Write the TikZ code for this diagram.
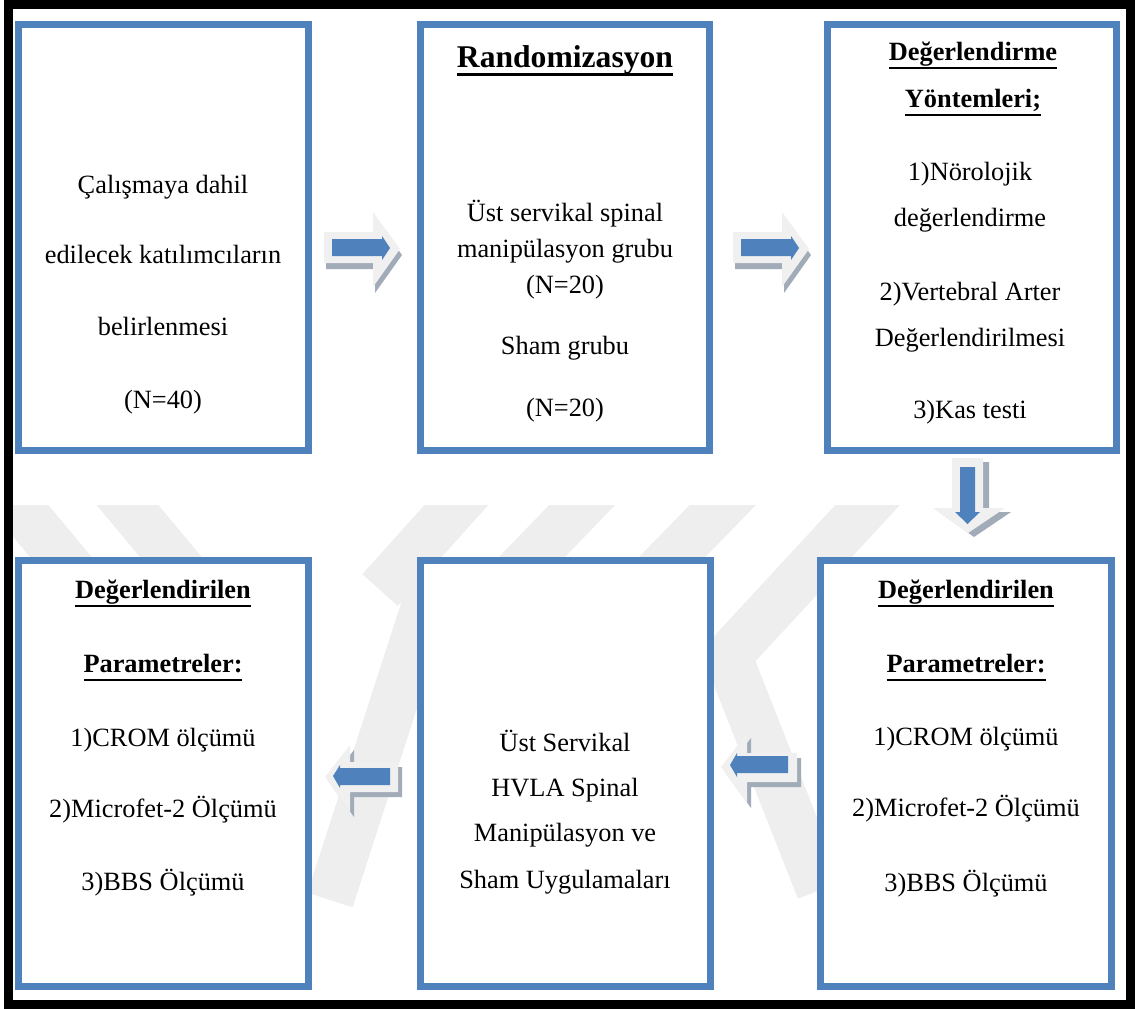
\documentclass[tikz,border=0pt]{standalone}
\usepackage{fontspec}
\setmainfont{Liberation Serif}
\newdimen\myuldepth \myuldepth=4.2pt
\newdimen\myulthick \myulthick=1.1pt
\newcommand{\hdline}[1]{\setbox0\hbox{\textbf{#1}}\rlap{\vrule width \wd0 height -\myuldepth depth \dimexpr\myuldepth+\myulthick\relax}\box0}
\definecolor{boxblue}{HTML}{4F81BD}
\definecolor{arrlight}{HTML}{F0F0F0}
\definecolor{arrshade}{HTML}{A2ABB8}
\definecolor{wmark}{HTML}{EEEEEE}
\begin{document}
\begin{tikzpicture}[x=0.02cm,y=-0.02cm,
  frame/.style={draw=boxblue,fill=white,line width=0.14cm,inner sep=0pt,minimum width=5.8cm,minimum height=8.52cm},
  txt/.style={font=\fontsize{15}{18}\selectfont,inner sep=0pt,anchor=base},
  bigtxt/.style={font=\fontsize{18}{22}\selectfont,inner sep=0pt,anchor=base},
  wband/.style={draw=wmark,line width=0.95cm,line cap=butt},
  arrbody/.style={fill=arrlight},
  arrshadow/.style={fill=arrshade},
  arrcore/.style={fill=boxblue}]
\useasboundingbox (0,0) rectangle (1135,1008);
% watermark
\begin{scope}
\clip (13,505) rectangle (1126,1000);
\draw[wband] (-20,460) -- (180,700);
\draw[wband] (90,460) -- (290,700);
\draw[wband] (488,470) -- (380,590);
\draw[wband] (616,470) -- (500,590);
\draw[wband] (757,470) -- (640,590);
\draw[wband] (900,470) -- (728,656) -- (820,890);
\draw[wband] (440,560) -- (330,900);
\end{scope}
% outer black frame
\draw[line width=0.18cm] (8.5,4) rectangle (1130.5,1004);
% boxes
\node[frame,minimum width=5.8cm] (b1) at (163.5,237.5) {};
\node[frame,minimum width=5.78cm] (b2) at (565,237.5) {};
\node[frame,minimum width=5.78cm] (b3) at (972,237.5) {};
\node[frame,minimum width=5.8cm] (b4) at (163.5,773.5) {};
\node[frame,minimum width=5.8cm] (b5) at (565.5,773.5) {};
\node[frame,minimum width=5.82cm] (b6) at (966,773.5) {};
% box 1 text
\node[txt] (t11) at (163,193) {Çalışmaya dahil};
\node[txt] (t12) at (163,263) {edilecek katılımcıların};
\node[txt] (t13) at (163,335) {belirlenmesi};
\node[txt] (t14) at (163,408) {(N=40)};
% box 2 text
\node[bigtxt] (t21) at (565,67) {\myuldepth=3.2pt\myulthick=1.7pt\hdline{Randomizasyon}};
\node[txt] (t22) at (565,221) {Üst servikal spinal};
\node[txt] (t23) at (565,257) {manipülasyon grubu};
\node[txt] (t24) at (565,293) {(N=20)};
\node[txt] (t25) at (565,354) {Sham grubu};
\node[txt] (t26) at (565,416) {(N=20)};
% box 3 text
\node[txt] (t31) at (973,60) {\hdline{Değerlendirme}};
\node[txt] (t32) at (973,107) {\hdline{Yöntemleri;}};
\node[txt] (t33) at (970,180) {1)Nörolojik};
\node[txt] (t34) at (970,226) {değerlendirme};
\node[txt] (t35) at (970,300) {2)Vertebral Arter};
\node[txt] (t36) at (970,346) {Değerlendirilmesi};
\node[txt] (t37) at (970,418) {3)Kas testi};
% box 4 text
\node[txt] (t41) at (163,598) {\hdline{Değerlendirilen}};
\node[txt] (t42) at (163,672) {\hdline{Parametreler:}};
\node[txt] (t43) at (163,746) {1)CROM ölçümü};
\node[txt] (t44) at (163,817) {2)Microfet-2 Ölçümü};
\node[txt] (t45) at (163,890) {3)BBS Ölçümü};
% box 5 text
\node[txt] (t51) at (565,751) {Üst Servikal};
\node[txt] (t52) at (565,796) {HVLA Spinal};
\node[txt] (t53) at (565,841) {Manipülasyon ve};
\node[txt] (t54) at (565,888) {Sham Uygulamaları};
% box 6 text
\node[txt] (t61) at (966,598) {\hdline{Değerlendirilen}};
\node[txt] (t62) at (966,672) {\hdline{Parametreler:}};
\node[txt] (t63) at (966,745) {1)CROM ölçümü};
\node[txt] (t64) at (966,816) {2)Microfet-2 Ölçümü};
\node[txt] (t65) at (966,891) {3)BBS Ölçümü};
% arrow b1 -> b2
\begin{scope}
\fill[arrshadow] (326,238) -- (375,238) -- (375,218) -- (402,255) -- (375,293) -- (375,269) -- (326,269) -- cycle;
\fill[arrbody] (324,232) -- (373,232) -- (373,212) -- (400,249) -- (373,287) -- (373,263) -- (324,263) -- cycle;
\fill[arrcore] (332,239) -- (382,239) -- (382,236) -- (390,248) -- (382,260) -- (382,256) -- (332,256) -- cycle;
\end{scope}
% arrow b2 -> b3
\begin{scope}[xshift=409*0.02cm]
\fill[arrshadow] (326,238) -- (375,238) -- (375,218) -- (402,255) -- (375,293) -- (375,269) -- (326,269) -- cycle;
\fill[arrbody] (324,232) -- (373,232) -- (373,212) -- (400,249) -- (373,287) -- (373,263) -- (324,263) -- cycle;
\fill[arrcore] (332,239) -- (382,239) -- (382,236) -- (390,248) -- (382,260) -- (382,256) -- (332,256) -- cycle;
\end{scope}
% arrow b3 -> b6 (down)
\fill[arrshadow] (958,462) -- (989,462) -- (989,512) -- (1011,512) -- (974,537) -- (939,512) -- (958,512) -- cycle;
\fill[arrbody] (952,458) -- (983,458) -- (983,508) -- (1005,508) -- (968,533) -- (933,508) -- (952,508) -- cycle;
\fill[arrcore] (960,467) -- (975,467) -- (975,512) -- (980,512) -- (967.5,524) -- (955,512) -- (960,512) -- cycle;
% arrow b6 -> b5 (left)
\fill[arrshadow] (801,758) -- (751,758) -- (751,738) -- (725,772) -- (751,808) -- (751,787) -- (801,787) -- cycle;
\fill[arrbody] (797,753) -- (747,753) -- (747,733) -- (721,767) -- (747,803) -- (747,782) -- (797,782) -- cycle;
\fill[arrcore] (788,756) -- (737,756) -- (737,753) -- (730,765) -- (737,777) -- (737,773) -- (788,773) -- cycle;
% arrow b5 -> b4 (left)
\fill[arrshadow] (402,767) -- (354,767) -- (354,750) -- (329,782) -- (354,817) -- (354,797) -- (402,797) -- cycle;
\fill[arrbody] (398,762) -- (350,762) -- (350,745) -- (325,777) -- (350,812) -- (350,792) -- (398,792) -- cycle;
\fill[arrcore] (390,768) -- (340,768) -- (340,765) -- (333,776) -- (340,788) -- (340,785) -- (390,785) -- cycle;
\end{tikzpicture}
\end{document}
